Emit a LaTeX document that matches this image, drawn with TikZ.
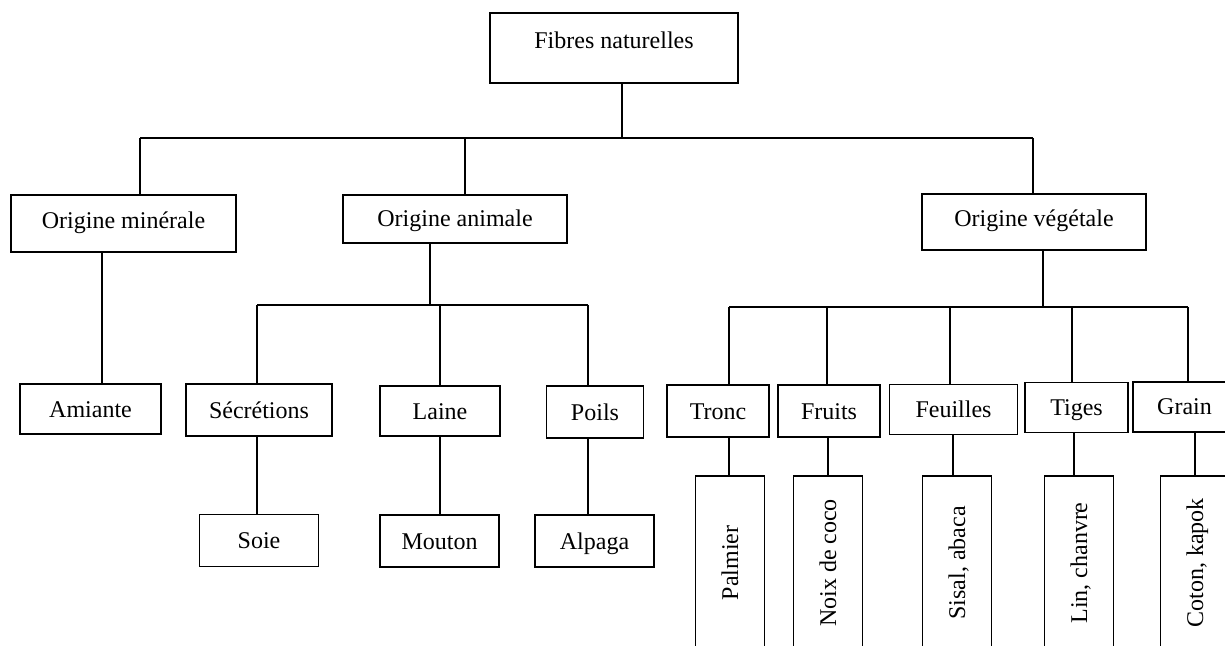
\documentclass[tikz,border=0pt]{standalone}
\usepackage{fontspec}
\setmainfont{Liberation Serif}
\begin{document}
\begin{tikzpicture}[x=0.5pt,y=-0.5pt,line width=0.8pt,font=\fontsize{12}{14}\selectfont,
    box/.style={draw,inner sep=0pt,text height=8pt,text depth=0pt,minimum height=25pt},
    leaf/.style={box,minimum width=59.5pt,minimum height=26pt},
    stem/.style={draw,inner sep=0pt,rotate=90,text height=8pt,text depth=0pt,
      minimum width=87pt,minimum height=34.5pt}]
  \useasboundingbox (0,0) rectangle (1225,646);
  \clip (0,0) rectangle (1225,646);
  % levels 0 and 1
  \node[box,minimum width=124pt,minimum height=35pt,text depth=7pt] (fibres) at (614,48) {Fibres naturelles};
  \node[box,minimum width=112.5pt,minimum height=28.5pt,text depth=3pt] (minerale) at (123.5,223.5) {Origine minérale};
  \node[box,minimum width=112pt,minimum height=24pt] (animale) at (455,219) {Origine animale};
  \node[box,minimum width=112pt,minimum height=28pt,text depth=3pt] (vegetale) at (1034,222) {Origine végétale};
  % level 2
  \node[box,minimum width=70.5pt] (amiante) at (90.5,409) {Amiante};
  \node[box,minimum width=73pt,minimum height=26pt] (secretions) at (259,410) {Sécrétions};
  \node[box,minimum width=60pt] (laine) at (440,411) {Laine};
  \node[box,minimum width=48.5pt,minimum height=26pt] (poils) at (595,412) {Poils};
  \node[box,minimum width=51pt,minimum height=26pt] (tronc) at (718,411) {Tronc};
  \node[box,minimum width=51pt,minimum height=26pt] (fruits) at (829,411) {Fruits};
  \node[box,minimum width=64pt] (feuilles) at (953.5,409.5) {Feuilles};
  \node[box,minimum width=51.5pt] (tiges) at (1076.5,407.5) {Tiges};
  \node[box,minimum width=51.5pt] (grain) at (1184.5,407) {Grain};
  % level 3
  \node[leaf] (soie) at (259,540.5) {Soie};
  \node[leaf] (mouton) at (439.5,541) {Mouton};
  \node[leaf] (alpaga) at (594.5,541) {Alpaga};
  \node[stem] (palmier) at (730,563) {Palmier};
  \node[stem] (noix) at (828,563) {Noix de coco};
  \node[stem] (sisal) at (957,563) {Sisal, abaca};
  \node[stem] (lin) at (1079,563) {Lin, chanvre};
  \node[stem] (coton) at (1195,563) {Coton, kapok};
  % buses
  \coordinate (b0) at (622,138);
  \coordinate (b1) at (140,138);
  \coordinate (b2) at (465,138);
  \coordinate (b3) at (1033,138);
  \coordinate (a0) at (430,305);
  \coordinate (a1) at (257,305);
  \coordinate (a2) at (440,305);
  \coordinate (a3) at (588,305);
  \coordinate (v0) at (1043,307);
  \coordinate (v1) at (729,307);
  \coordinate (v5) at (1188,307);
  \begin{scope}[-]
    \draw (fibres.south -| b0) -- (b0);
    \draw (b1) -- (b3);
    \draw (b1) -- (b1 |- minerale.north);
    \draw (b2) -- (b2 |- animale.north);
    \draw (b3) -- (b3 |- vegetale.north);
    \draw (minerale.south -| 102,0) -- (amiante.north -| 102,0);
    \draw (a0 |- animale.south) -- (a0);
    \draw (a1) -- (a3);
    \draw (a1) -- (a1 |- secretions.north);
    \draw (a2) -- (a2 |- laine.north);
    \draw (a3) -- (a3 |- poils.north);
    \draw (secretions.south -| a1) -- (soie.north -| a1);
    \draw (laine.south -| a2) -- (mouton.north -| a2);
    \draw (poils.south -| a3) -- (alpaga.north -| a3);
    \draw (v0 |- vegetale.south) -- (v0);
    \draw (v1) -- (v5);
    \foreach \x/\a in {729/tronc, 827/fruits, 950/feuilles, 1072/tiges, 1188/grain}
      \draw (\x,307) -- (\a.north -| \x,0);
    \foreach \x/\a/\b in {729/tronc/palmier, 828/fruits/noix, 953/feuilles/sisal, 1074/tiges/lin, 1195/grain/coton}
      \draw (\a.south -| \x,0) -- (\b.east -| \x,0);
  \end{scope}
\end{tikzpicture}
\end{document}
